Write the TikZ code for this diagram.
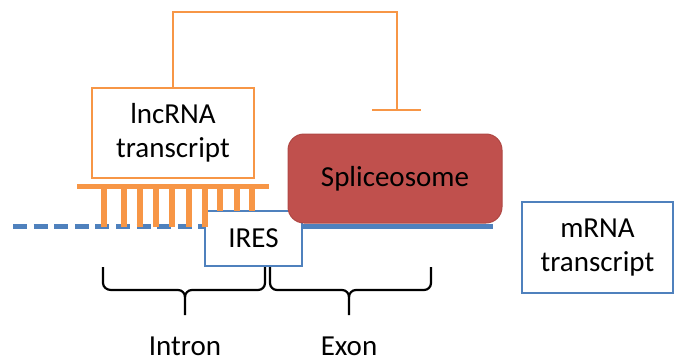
\documentclass[tikz,border=0pt]{standalone}
\usepackage{fontspec}
\setmainfont{Carlito}
\usetikzlibrary{calc}
\definecolor{lncorange}{HTML}{F79646}
\definecolor{rnablue}{HTML}{4F81BD}
\definecolor{splred}{HTML}{C0504D}
\definecolor{splborder}{HTML}{B04844}
\begin{document}
\begin{tikzpicture}[x=1pt,y=-1pt,
  lbl/.style={font=\fontsize{29}{34}\selectfont, align=center, text=black},
  obox/.style={draw=lncorange, line width=2pt, fill=white, inner sep=0pt, lbl},
  bbox/.style={draw=rnablue, line width=2pt, fill=white, inner sep=0pt, lbl},
  strand/.style={draw=rnablue, line width=4.8pt},
  tooth/.style={draw=lncorange, line width=5.2pt},
  inh/.style={draw=lncorange, line width=2pt},
  bracepath/.style={draw=black, line width=2.2pt, line join=round}]
\useasboundingbox (0,0) rectangle (675,361);

% strands
\coordinate (s0) at (13,226.7);
\coordinate (iresW) at (205,226.7);
\coordinate (iresE) at (302,226.7);
\coordinate (s1) at (493,226.7);
\draw[strand, dash pattern=on 14pt off 6.6pt] (s0) -- (iresW);
\draw[strand] (iresE) -- (s1);
\node[bbox, minimum width=97pt, minimum height=55pt] (ires) at (253.5,238.5) {IRES};

% lncRNA
\node[obox, minimum width=162pt, minimum height=90pt] (lnc) at (173,133) {lncRNA\\transcript};
\coordinate (barL) at (77,186.8);
\coordinate (barR) at (269,186.8);
\draw[tooth] (barL) -- (barR);
\foreach \x in {104,124,140,156,172,189,205}{
  \draw[tooth] (\x,186.8) -- (\x,226.7);
}
\foreach \x in {220,237,252}{
  \draw[tooth] (\x,186.8) -- (\x,211);
}

% spliceosome
\node[draw=splborder, fill=splred, line width=1pt, rounded corners=16pt,
  minimum width=214pt, minimum height=89pt, lbl] (spl) at (395,178.5) {Spliceosome};

% inhibition
\coordinate (top) at (397,12);
\coordinate (tee) at (397,110);
\draw[inh] (lnc.north) |- (top) -- (tee);
\draw[inh] ($(tee)+(-25,0)$) -- ($(tee)+(24,0)$);

% mRNA
\node[bbox, minimum width=151pt, minimum height=91pt] (mrna) at (597.5,247.5) {mRNA\\transcript};

% braces
\draw[bracepath] (103,267) -- (103,283) to[out=-90,in=180] (111,290) -- (178,290)
  to[out=0,in=90] (185,297) -- (185,315);
\draw[bracepath] (185,297) to[out=90,in=180] (192,290) -- (258,290)
  to[out=0,in=-90] (265,283) -- (265,267);
\draw[bracepath] (270,267) -- (270,283) to[out=-90,in=180] (277,290) -- (342,290)
  to[out=0,in=90] (349,297) -- (349,315);
\draw[bracepath] (349,297) to[out=90,in=180] (356,290) -- (424,290)
  to[out=0,in=-90] (431,283) -- (431,267);

\node[lbl] (intron) at (185,346) {Intron};
\node[lbl] (exon) at (349,346) {Exon};
\end{tikzpicture}
\end{document}
